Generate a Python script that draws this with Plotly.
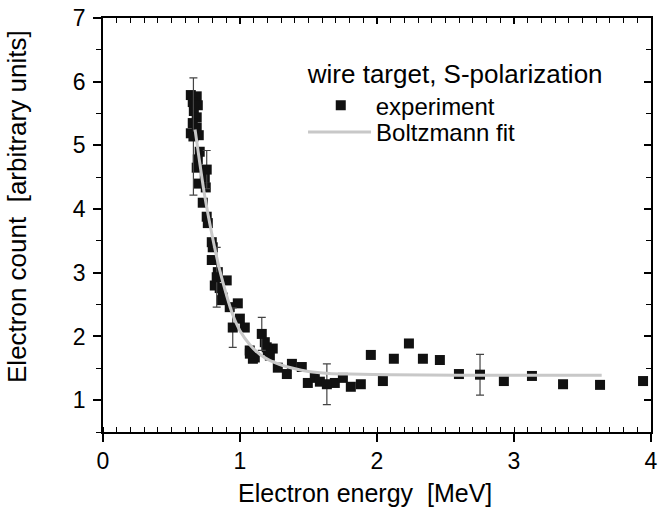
import plotly.graph_objects as go

# Experiment points (energy [MeV], count [a.u.])
exp_x = [0.641, 0.684, 0.655, 0.692, 0.663, 0.684, 0.655, 0.684, 0.641, 0.699,
         0.706, 0.692, 0.684, 0.743, 0.699, 0.750,
         0.728, 0.757, 0.765, 0.794, 0.801, 0.794, 0.838, 0.903, 0.816, 0.852,
         0.874, 0.984, 0.925, 0.867, 0.999, 1.035, 1.071, 1.108, 1.195, 1.239,
         1.276, 1.181, 1.203, 1.218, 1.094, 1.072, 1.379, 1.451, 1.342,
         1.495, 1.546, 1.583, 1.692, 1.751, 1.809, 1.882, 1.955, 2.043, 2.123,
         2.233, 2.335, 2.459, 2.598, 2.926, 3.131, 3.358, 3.628, 3.942]
exp_y = [5.79, 5.77, 5.68, 5.63, 5.54, 5.44, 5.35, 5.28, 5.19, 5.16,
         4.90, 4.78, 4.65, 4.49, 4.40, 4.34,
         4.10, 3.88, 3.78, 3.48, 3.40, 3.20, 3.01, 2.88, 2.80, 2.76,
         2.61, 2.52, 2.46, 2.57, 2.28, 2.14, 1.78, 1.67, 1.83, 1.81,
         1.51, 1.91, 1.78, 1.70, 1.65, 1.73, 1.57, 1.52, 1.41,
         1.27, 1.35, 1.29, 1.27, 1.35, 1.21, 1.25, 1.71, 1.30, 1.65,
         1.89, 1.65, 1.63, 1.41, 1.30, 1.38, 1.25, 1.24, 1.30]

# Points carrying error bars
err_x = [0.660, 0.757, 0.830, 0.947, 1.159, 1.634, 2.752]
err_y = [5.14, 4.62, 2.93, 2.14, 2.04, 1.25, 1.40]
err_v = [0.92, 0.30, 0.47, 0.31, 0.26, 0.32, 0.32]

# Boltzmann fit curve
fit_x = [0.672, 0.700, 0.743, 0.800, 0.852, 0.900, 0.947, 1.000, 1.072, 1.144,
         1.220, 1.290, 1.387, 1.500, 1.650, 1.800, 2.100, 2.600, 3.000, 3.640]
fit_y = [5.25, 4.82, 4.20, 3.55, 3.04, 2.66, 2.34, 2.09, 1.87, 1.72,
         1.62, 1.56, 1.50, 1.45, 1.42, 1.41, 1.40, 1.39, 1.39, 1.39]

x_range = [0, 4]
y_range = [0.5, 7]

FONT = "Liberation Sans, Arial, Helvetica, sans-serif"
MK = "#111111"

fig = go.Figure()
fig.add_trace(go.Scatter(
    x=exp_x, y=exp_y, mode="markers", name="experiment", legend="legend",
    marker=dict(symbol="square", size=10, color=MK, line=dict(width=0)),
))
fig.add_trace(go.Scatter(
    x=err_x, y=err_y, mode="markers", showlegend=False,
    marker=dict(symbol="square", size=10, color=MK, line=dict(width=0)),
    error_y=dict(type="data", array=err_v, visible=True, color="#444444",
                 thickness=1.2, width=4),
))
fig.add_trace(go.Scatter(
    x=fit_x, y=fit_y, mode="lines", name="Boltzmann fit", legend="legend2",
    line=dict(color="#c8c8c8", width=3, shape="spline", smoothing=0.8),
))
# invisible trace so the top/right frame axes are drawn
fig.add_trace(go.Scatter(
    x=fit_x[:1], y=fit_y[:1], xaxis="x2", yaxis="y2", mode="none",
    showlegend=False, hoverinfo="skip",
))

axis_common = dict(showgrid=False, zeroline=False, showline=True,
                   linecolor="black", linewidth=1.5, tickcolor="black",
                   tickwidth=1.5, automargin=False, ticklabeloverflow="allow")

fig.update_layout(
    width=658, height=509,
    margin=dict(l=103, r=7, t=18, b=77),
    paper_bgcolor="white", plot_bgcolor="white",
    font=dict(family=FONT, size=23, color="black"),
    showlegend=True,
    legend=dict(
        x=0.37, y=0.924, xanchor="left", yanchor="top",
        bgcolor="rgba(0,0,0,0)",
        title=dict(text="wire target, S-polarization", font=dict(size=26)),
        font=dict(size=24), itemwidth=60, tracegroupgap=0,
    ),
    legend2=dict(
        x=0.365, y=0.778, xanchor="left", yanchor="top",
        bgcolor="rgba(0,0,0,0)",
        font=dict(size=24), itemwidth=63, tracegroupgap=0,
    ),
    xaxis=dict(
        range=x_range, dtick=1, tick0=0, ticks="outside", ticklen=8,
        minor=dict(dtick=0.1, ticks="inside", ticklen=5, tickcolor="black", tickwidth=1.2),
        **axis_common,
    ),
    yaxis=dict(
        range=y_range, dtick=1, tick0=0, ticks="outside", ticklen=8,
        ticklabelstandoff=3,
        minor=dict(dtick=0.5, ticks="outside", ticklen=5, tickcolor="black", tickwidth=1.2),
        **axis_common,
    ),
    xaxis2=dict(
        overlaying="x", side="top", range=x_range, dtick=1, tick0=0,
        ticks="inside", ticklen=6, showticklabels=False,
        minor=dict(dtick=0.1, ticks="inside", ticklen=5, tickcolor="black", tickwidth=1.2),
        **axis_common,
    ),
    yaxis2=dict(
        overlaying="y", side="right", range=y_range, dtick=1, tick0=0,
        ticks="inside", ticklen=7, showticklabels=False,
        minor=dict(dtick=0.5, ticks="inside", ticklen=5, tickcolor="black", tickwidth=1.2),
        **axis_common,
    ),
    annotations=[
        dict(text="Electron energy  [MeV]", xref="paper", yref="paper",
             x=0.478, y=0, yshift=-61, xanchor="center", yanchor="middle",
             showarrow=False, font=dict(size=25)),
        dict(text="Electron count  [arbitrary units]", xref="paper", yref="paper",
             x=0, xshift=-86, y=0.5435, xanchor="center", yanchor="middle",
             textangle=-90, showarrow=False, font=dict(size=26)),
    ],
)

# remove the browser's default 8px body margin so the figure fills the window
fig.write_html("out.html", config={"displayModeBar": False},
               post_script="document.body.style.margin='0';")
